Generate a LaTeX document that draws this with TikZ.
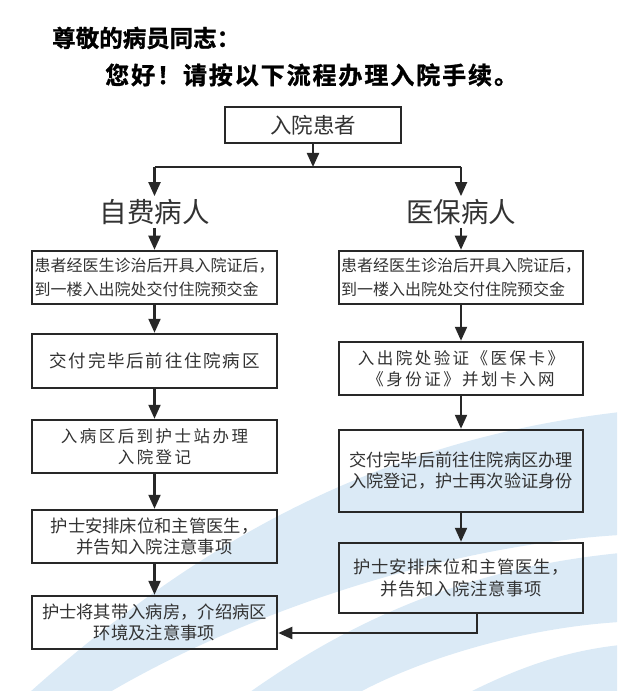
\documentclass[tikz,border=0pt]{standalone}
\usepackage{fontspec}
\usetikzlibrary{arrows.meta}
\setmainfont{Noto Sans CJK SC}
\newfontfamily\cjks[LetterSpace=10]{Noto Sans CJK SC}
\newfontfamily\cjkw[LetterSpace=15]{Noto Sans CJK SC}
\newfontfamily\cjkt[FakeBold=1.2]{Noto Sans CJK SC Bold}
\definecolor{bandblue}{RGB}{219,234,246}
\definecolor{ink}{RGB}{40,40,40}
\definecolor{txt}{RGB}{50,50,50}
\tikzset{
  box/.style={draw=ink, line width=2.5pt, inner sep=0pt, text=txt, align=center},
  colbox/.style={box, minimum width=245pt},
  conn/.style={draw=ink, line width=2.2pt},
  arr/.style={conn, -{Triangle[length=14pt,width=12pt]}},
  cat/.style={inner sep=0pt, text=txt, font=\fontsize{27.5}{27.5}\selectfont},
  titlefont/.style={inner sep=0pt, anchor=west, text=black}
}
\begin{document}
\begin{tikzpicture}[x=1pt,y=-1pt]
\useasboundingbox (0,0) rectangle (635,700);
% background swooshes
\begin{scope}
\clip (0,0) rectangle (617,690);
\fill[bandblue] (30,692) .. controls (200,540) and (380,440) .. (620,412) -- (620,535) .. controls (450,545) and (250,610) .. (110,692) -- cycle;
\fill[bandblue] (250,692) .. controls (380,600) and (500,565) .. (620,553) -- (620,622) .. controls (520,628) and (420,660) .. (360,692) -- cycle;
\fill[bandblue] (470,692) .. controls (530,662) and (575,650) .. (620,645) -- (620,692) -- cycle;
\end{scope}
% title
\node[titlefont, font=\fontsize{23.5}{24}\selectfont\cjkt] (t1) at (52,38) {尊敬的病员同志：};
\node[titlefont, font=\fontsize{24}{24}\selectfont\cjkt\addfontfeature{LetterSpace=8}] (t2) at (105,75) {您好！请按以下流程办理入院手续。};
% top
\node[box, minimum width=176pt, minimum height=36pt, font=\fontsize{21.5}{21.5}\selectfont] (top) at (313,125) {入院患者};
\coordinate (split) at (313,167);
\coordinate (jl) at (154.5,167);
\coordinate (jr) at (461,167);
\node[cat] (self) at (154.5,212) {自费病人};
\node[cat] (ins) at (461,212) {医保病人};
% left column
\node[colbox, minimum height=53pt, align=left, font=\fontsize{16}{24}\selectfont] (L1) at (154.5,277.5) {患者经医生诊治后开具入院证后，\\到一楼入出院处交付住院预交金};
\node[colbox, minimum height=54pt, font=\fontsize{17.5}{20}\selectfont\cjks] (L2) at (154.5,361) {交付完毕后前往住院病区};
\node[colbox, minimum height=53pt, font=\fontsize{16.5}{20.5}\selectfont\cjkw] (L3) at (154.5,446.5) {入病区后到护士站办理\\入院登记};
\node[colbox, minimum height=53pt, font=\fontsize{17.3}{21.5}\selectfont] (L4) at (154.5,536.5) {护士安排床位和主管医生，\\并告知入院注意事项};
\node[colbox, minimum height=53pt, font=\fontsize{17.3}{21.5}\selectfont] (L5) at (154.5,622.5) {护士将其带入病房，介绍病区\\环境及注意事项};
% right column
\node[box, minimum width=244pt, minimum height=53pt, align=left, font=\fontsize{16}{23.5}\selectfont] (R1) at (461,277.5) {患者经医生诊治后开具入院证后，\\到一楼入出院处交付住院预交金};
\node[box, minimum width=244pt, minimum height=53pt, font=\fontsize{16.5}{20.5}\selectfont\cjkw] (R2) at (461,368.5) {入出院处验证《医保卡》\\《身份证》并划卡入网};
\node[box, minimum width=244pt, minimum height=82pt, font=\fontsize{17.2}{21}\selectfont] (R3) at (461,471) {交付完毕后前往住院病区办理\\入院登记，护士再次验证身份};
\node[box, minimum width=244pt, minimum height=70pt, font=\fontsize{17.3}{22}\selectfont\addfontfeature{LetterSpace=4}] (R4) at (461,578) {护士安排床位和主管医生，\\并告知入院注意事项};
% connectors
\draw[arr] (top) -- (split);
\draw[conn] (jl) -- (jr);
\draw[arr, shorten >=3pt] (jl) -- (self);
\draw[arr, shorten >=3pt] (jr) -- (ins);
\draw[arr, shorten <=3pt] (self) -- (L1);
\draw[arr, shorten <=3pt] (ins) -- (R1);
\draw[arr] (L1) -- (L2);
\draw[arr] (L2) -- (L3);
\draw[arr] (L3) -- (L4);
\draw[arr] (L4) -- (L5);
\draw[arr] (R1) -- (R2);
\draw[arr] (R2) -- (R3);
\draw[arr] (R3) -- (R4);
\coordinate (bend) at (477,633);
\draw[arr] (R4.south -| bend) -- (bend) -- (bend -| L5.east);
\end{tikzpicture}
\end{document}
